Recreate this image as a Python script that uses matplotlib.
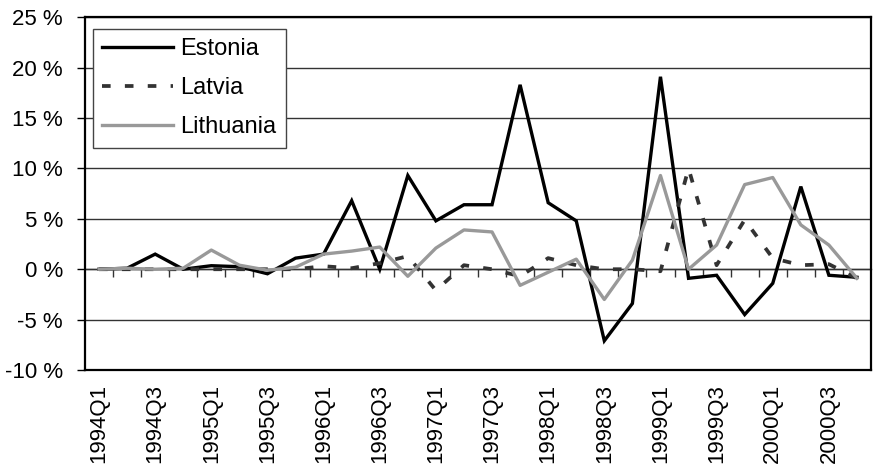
import matplotlib
matplotlib.use("Agg")
import matplotlib.pyplot as plt
import numpy as np

plt.rcParams['font.family'] = ['Liberation Sans', 'DejaVu Sans']

quarters = [f"{y}Q{q}" for y in range(1994, 2001) for q in range(1, 5)]

estonia = [0, 0.1, 1.5, 0, 0.35, 0.25, -0.45, 1.1, 1.5, 6.8, 0, 9.3, 4.8, 6.4,
           6.4, 18.3, 6.6, 4.8, -7.1, -3.4, 19.1, -0.9, -0.6, -4.5, -1.4, 8.2, -0.6, -0.8]
latvia = [0, 0, 0, 0, 0, 0, 0, 0, 0.3, 0.1, 0.6, 1.3, -2.1, 0.4,
          0.0, -0.7, 1.1, 0.4, 0.0, 0.0, -0.2, 10.0, 0.4, 4.9, 1.1, 0.4, 0.5, -0.9]
lithuania = [0, 0.1, 0, 0.1, 1.9, 0.4, -0.1, 0.2, 1.5, 1.8, 2.2, -0.7, 2.1, 3.9,
             3.7, -1.6, -0.3, 1.0, -3.0, 0.9, 9.3, 0, 2.4, 8.4, 9.1, 4.4, 2.4, -0.9]

y_ticks = [-10, -5, 0, 5, 10, 15, 20, 25]
y_labels = [f"{v} %" for v in y_ticks]

fs_tick = 16
fs_leg = 17

fig = plt.figure(figsize=(8.75, 4.73), dpi=100)
ax = fig.add_axes([85/875, 1-370/473, 786/875, (370-17.3)/473])

x = np.arange(len(quarters))
ax.plot(x, estonia, color='black', lw=2.4, label='Estonia', solid_joinstyle='miter')
ax.plot(x, latvia, color='#333333', lw=2.7, ls=(0, (2.3, 3.8)), label='Latvia')
ax.plot(x, lithuania, color='#999999', lw=2.4, label='Lithuania')

ax.set_xlim(-0.5, len(quarters) - 0.5)
ax.set_ylim(-10, 25)
ax.set_yticks(y_ticks)
ax.set_yticklabels(y_labels, fontsize=fs_tick)
ax.tick_params(axis='y', direction='out', length=6, width=1, pad=10)
ax.yaxis.grid(True, color='#333333', lw=1)
ax.set_axisbelow(True)

ax.set_xticks(x[::2])
ax.set_xticklabels(quarters[::2], rotation=90, fontsize=fs_tick)
ax.tick_params(axis='x', length=0, pad=10)

for s in ax.spines.values():
    s.set_color('black')
    s.set_linewidth(1.6)

# zero-level category axis with tick marks between categories
zero_frac = (0 - (-10)) / 35
sec = ax.secondary_xaxis(zero_frac)
sec.set_xticks(np.arange(0.5, len(quarters) - 0.5, 1))
sec.set_xticklabels([])
sec.tick_params(axis='x', direction='out', length=6, width=1, color='#333333')
sec.spines['bottom'].set_color('#333333')
sec.spines['bottom'].set_linewidth(1)

leg = ax.legend(loc='upper left', bbox_to_anchor=(0.0102, 0.967), fontsize=fs_leg,
                frameon=True, fancybox=False, edgecolor='#444444', framealpha=1,
                handlelength=3.0, handletextpad=0.3, labelspacing=0.72,
                borderpad=0.4, borderaxespad=0)
leg.get_frame().set_linewidth(1)

fig.savefig('out.png', dpi=100)
